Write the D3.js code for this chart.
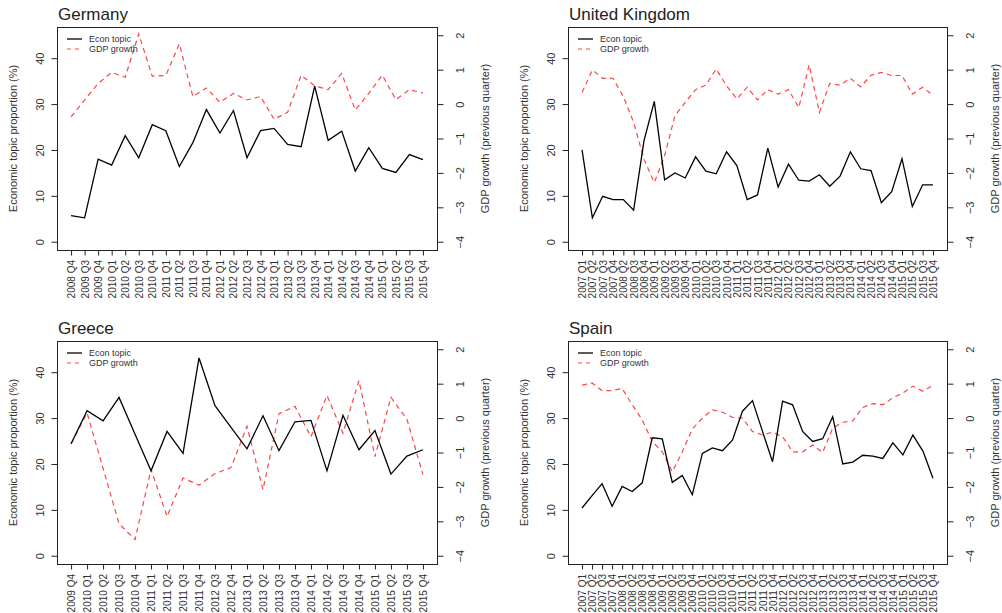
<!DOCTYPE html>
<html>
<head>
<meta charset="utf-8">
<script src="https://cdn.jsdelivr.net/npm/d3@7"></script>
<style>
  body { margin: 0; background: #fff; }
  svg { display: block; font-family: "Liberation Sans", Arial, Helvetica, sans-serif; }
</style>
</head>
<body>
<svg id="chart" width="1002" height="613"></svg>
<script>
// ---------- DATA ----------
const countries = ["Germany", "United Kingdom", "Greece", "Spain"];

const germanyQuarters = ["2008 Q4","2009 Q3","2009 Q4","2010 Q1","2010 Q2","2010 Q3","2010 Q4","2011 Q1","2011 Q2","2011 Q3","2011 Q4","2012 Q1","2012 Q2","2012 Q3","2012 Q4","2013 Q1","2013 Q2","2013 Q3","2013 Q4","2014 Q1","2014 Q2","2014 Q3","2014 Q4","2015 Q1","2015 Q2","2015 Q3","2015 Q4"];
const germanyEcon = [5.7,5.2,18.0,16.7,23.1,18.3,25.5,24.2,16.4,21.6,28.8,23.7,28.6,18.3,24.2,24.7,21.2,20.7,33.9,22.1,24.1,15.4,20.5,16.0,15.1,19.0,17.9];
const germanyGdp = [-0.37,0.12,0.60,0.92,0.78,2.04,0.81,0.83,1.75,0.22,0.47,0.05,0.31,0.12,0.22,-0.44,-0.24,0.84,0.53,0.42,0.89,-0.17,0.31,0.84,0.13,0.42,0.32];

const ukQuarters = ["2007 Q1","2007 Q2","2007 Q3","2007 Q4","2008 Q2","2008 Q3","2008 Q4","2009 Q1","2009 Q2","2009 Q3","2009 Q4","2010 Q1","2010 Q2","2010 Q3","2010 Q4","2011 Q1","2011 Q2","2011 Q3","2011 Q4","2012 Q1","2012 Q2","2012 Q3","2012 Q4","2013 Q1","2013 Q2","2013 Q3","2013 Q4","2014 Q1","2014 Q2","2014 Q3","2014 Q4","2015 Q1","2015 Q2","2015 Q3","2015 Q4"];
const ukEcon = [20.0,5.2,9.9,9.2,9.2,6.9,22.0,30.6,13.5,15.0,13.9,18.5,15.4,14.8,19.6,16.6,9.2,10.2,20.4,11.9,16.9,13.4,13.2,14.6,12.1,14.3,19.6,15.9,15.5,8.5,10.9,18.1,7.7,12.4,12.4];
const ukGdp = [0.34,0.99,0.75,0.75,0.22,-0.53,-1.60,-2.28,-1.50,-0.34,0.05,0.42,0.55,1.02,0.53,0.15,0.49,0.12,0.42,0.29,0.42,-0.10,1.14,-0.24,0.60,0.55,0.75,0.50,0.84,0.92,0.83,0.83,0.29,0.49,0.26];

const greeceQuarters = ["2009 Q4","2010 Q1","2010 Q2","2010 Q3","2010 Q4","2011 Q1","2011 Q2","2011 Q3","2011 Q4","2012 Q3","2012 Q4","2013 Q1","2013 Q2","2013 Q3","2013 Q4","2014 Q1","2014 Q2","2014 Q3","2014 Q4","2015 Q1","2015 Q2","2015 Q3","2015 Q4"];
const greeceEcon = [24.4,31.6,29.4,34.5,26.5,18.5,27.1,22.3,43.1,32.7,28.0,23.3,30.5,22.9,29.2,29.5,18.5,30.6,23.1,27.3,17.8,21.7,23.1];
const greeceGdp = [-0.75,0.15,-1.46,-3.07,-3.53,-1.49,-2.86,-1.74,-1.95,-1.61,-1.44,-0.24,-2.08,0.13,0.34,-0.54,0.66,-0.44,1.09,-1.12,0.60,-0.03,-1.64];

const spainQuarters = ["2007 Q1","2007 Q2","2007 Q3","2007 Q4","2008 Q1","2008 Q2","2008 Q3","2008 Q4","2009 Q1","2009 Q2","2009 Q3","2009 Q4","2010 Q1","2010 Q2","2010 Q3","2010 Q4","2011 Q1","2011 Q2","2011 Q3","2011 Q4","2012 Q1","2012 Q2","2012 Q3","2012 Q4","2013 Q1","2013 Q2","2013 Q3","2013 Q4","2014 Q1","2014 Q2","2014 Q3","2014 Q4","2015 Q1","2015 Q2","2015 Q3","2015 Q4"];
const spainEcon = [10.4,13.1,15.7,10.8,15.1,14.0,15.9,25.7,25.5,16.0,17.5,13.3,22.3,23.5,22.9,25.2,31.5,33.8,27.1,20.5,33.7,32.9,27.1,24.9,25.5,30.3,20.0,20.4,21.9,21.7,21.2,24.6,22.0,26.3,22.8,16.9];
const spainGdp = [0.96,1.02,0.80,0.80,0.86,0.39,-0.05,-0.68,-0.98,-1.56,-0.98,-0.32,0.00,0.24,0.17,0.02,0.00,-0.39,-0.49,-0.41,-0.54,-0.98,-0.98,-0.78,-1.00,-0.29,-0.12,-0.08,0.31,0.42,0.39,0.59,0.73,0.93,0.78,0.95];

const leftTicks = [0, 10, 20, 30, 40];
const rightTicks = [-4, -3, -2, -1, 0, 1, 2];
const leftDomain = [-1.8, 46.8];
const rightDomain = [-4.24, 2.24];
const legendLabels = ["Econ topic", "GDP growth"];
const leftTitle = "Economic topic proportion (%)";
const rightTitle = "GDP growth (previous quarter)";

const panels = [
  { name: countries[0], quarters: germanyQuarters, econ: germanyEcon, gdp: germanyGdp, box: [57, 27, 437, 250] },
  { name: countries[1], quarters: ukQuarters, econ: ukEcon, gdp: ukGdp, box: [568, 27, 947, 250] },
  { name: countries[2], quarters: greeceQuarters, econ: greeceEcon, gdp: greeceGdp, box: [57, 341, 437, 564] },
  { name: countries[3], quarters: spainQuarters, econ: spainEcon, gdp: spainGdp, box: [568, 341, 947, 564] }
];

// ---------- DRAW ----------
const svg = d3.select("#chart");
const RED = "#ff4545";
const AXIS = "#222";
const TXT = "#333";
const fmt = d3.format("");

panels.forEach(p => {
  const [L, T, R, B] = p.box;
  const n = p.quarters.length;
  const g = svg.append("g");

  const x = d3.scalePoint().domain(p.quarters).range([L, R]).padding(0.04 * (n - 1));
  const yL = d3.scaleLinear().domain(leftDomain).range([B, T]);
  const yR = d3.scaleLinear().domain(rightDomain).range([B, T]);

  // box
  g.append("rect").attr("x", L + 0.5).attr("y", T + 0.5)
    .attr("width", R - L).attr("height", B - T)
    .attr("fill", "none").attr("stroke", AXIS).attr("stroke-width", 1);

  // left axis
  const axL = g.append("g").attr("transform", `translate(${L + 0.5},0)`)
    .call(d3.axisLeft(yL).tickValues(leftTicks).tickSize(6).tickFormat(fmt));
  axL.select(".domain").remove();
  axL.selectAll(".tick line").attr("stroke", AXIS);
  axL.selectAll(".tick text").attr("x", null).attr("dy", null)
    .attr("transform", "translate(-14,0) rotate(-90)")
    .attr("text-anchor", "middle").attr("font-size", "11px").attr("fill", TXT);

  // right axis
  const axR = g.append("g").attr("transform", `translate(${R + 0.5},0)`)
    .call(d3.axisRight(yR).tickValues(rightTicks).tickSize(6).tickFormat(fmt));
  axR.select(".domain").remove();
  axR.selectAll(".tick line").attr("stroke", AXIS);
  axR.selectAll(".tick text").attr("x", null).attr("dy", null)
    .attr("transform", "translate(26,0) rotate(-90)")
    .attr("text-anchor", "middle").attr("font-size", "11px").attr("fill", TXT);

  // bottom axis
  const axB = g.append("g").attr("transform", `translate(0,${B + 0.5})`)
    .call(d3.axisBottom(x).tickSize(5));
  axB.select(".domain").remove();
  axB.selectAll(".tick line").attr("stroke", AXIS);
  axB.selectAll(".tick text").attr("y", null).attr("dy", null)
    .attr("transform", "translate(3.5,9.5) rotate(-90)")
    .attr("text-anchor", "end").attr("font-size", "10px").attr("fill", TXT);

  // axis titles
  const midY = (T + B) / 2;
  g.append("text").attr("transform", `translate(${L - 40},${midY}) rotate(-90)`)
    .attr("text-anchor", "middle").attr("font-size", "11px").attr("fill", TXT).text(leftTitle);
  g.append("text").attr("transform", `translate(${R + 51.5},${midY}) rotate(-90)`)
    .attr("text-anchor", "middle").attr("font-size", "11px").attr("fill", TXT).text(rightTitle);

  // title
  g.append("text").attr("x", L + 1).attr("y", T - 7)
    .attr("font-size", "17px").attr("fill", "#222").text(p.name);

  // lines
  const econLine = d3.line().x((d, i) => x(p.quarters[i])).y(d => yL(d));
  const gdpLine = d3.line().x((d, i) => x(p.quarters[i])).y(d => yR(d));
  g.append("path").datum(p.gdp).attr("d", gdpLine)
    .attr("fill", "none").attr("stroke", RED).attr("stroke-width", 1.2)
    .attr("stroke-dasharray", "5,4");
  g.append("path").datum(p.econ).attr("d", econLine)
    .attr("fill", "none").attr("stroke", "#000").attr("stroke-width", 1.3)
    .attr("stroke-linejoin", "miter");

  // legend
  const lg = g.append("g").attr("transform", `translate(${L},${T})`);
  legendLabels.forEach((lab, i) => {
    const yy = 12 + i * 10;
    lg.append("line").attr("x1", 10).attr("x2", 25).attr("y1", yy).attr("y2", yy)
      .attr("stroke", i === 0 ? "#000" : RED).attr("stroke-width", i === 0 ? 1.3 : 1.2)
      .attr("stroke-dasharray", i === 0 ? null : "4,4");
    lg.append("text").attr("x", 32).attr("y", yy + 3.2)
      .attr("font-size", "9px").attr("fill", TXT).text(lab);
  });
});
</script>
</body>
</html>
